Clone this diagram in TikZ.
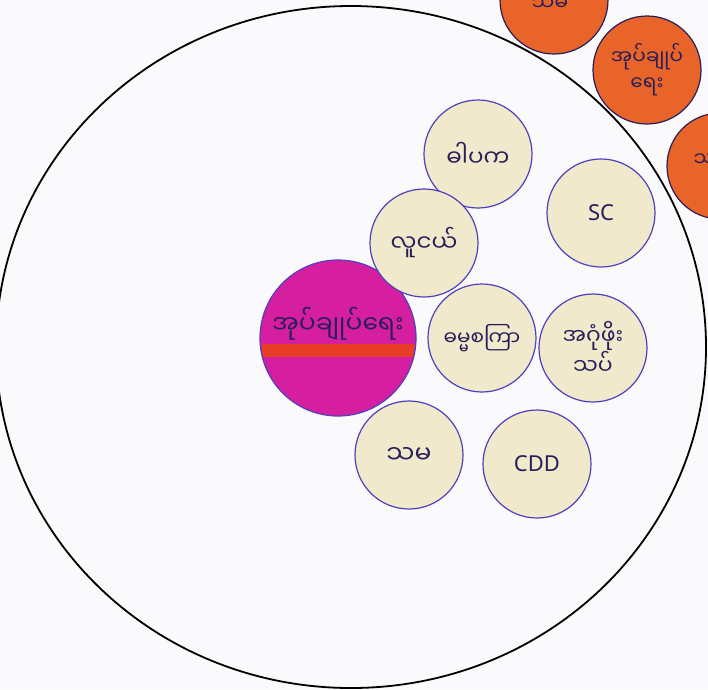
\documentclass[tikz,border=0pt]{standalone}
\usepackage{fontspec}
\setmainfont{Noto Sans}
\newfontfamily\myan[Script=Myanmar]{Noto Sans Myanmar UI}
\newfontfamily\latinfont{Noto Sans}
\definecolor{paper}{RGB}{250,250,252}
\definecolor{beige}{RGB}{240,233,204}
\definecolor{rim}{RGB}{80,64,190}
\definecolor{ink}{RGB}{40,30,90}
\definecolor{orng}{RGB}{233,100,40}
\definecolor{mag}{RGB}{214,30,160}
\definecolor{stripe}{RGB}{232,62,40}
\tikzset{
  disc/.style={circle, draw=rim, line width=1.2pt, fill=beige, inner sep=0pt,
    minimum size=108pt, text=ink, font=\myan\fontsize{23}{28}\selectfont, align=center},
  hot/.style={circle, draw=ink, line width=1.2pt, fill=orng, inner sep=0pt,
    minimum size=108pt, text=ink, font=\myan\fontsize{20}{26}\selectfont, align=center},
  mytext/.style={text=ink, font=\myan\fontsize{20}{26}\selectfont},
  latin/.style={font=\latinfont\fontsize{22}{26}\selectfont}
}
\begin{document}
\begin{tikzpicture}[x=1pt,y=-1pt]
\useasboundingbox (0,0) rectangle (708,689);
\clip (0,0) rectangle (708,689);
\fill[paper] (0,0) rectangle (708,689);
% outer boundary
\draw[line width=1.8pt, black] (351,347) ellipse [x radius=355, y radius=341];
% orange circles outside
\node[hot] (o1) at (554,0) {};
\node[mytext] (o1t) at (550,4) {သမ};
\node[hot] (o2) at (647,70) {အုပ်ချုပ်\\ရေး};
\node[hot, minimum size=106pt] (o3) at (720,166) {};
\node[mytext, anchor=west] (o3t) at (690,160) {သမ};
% magenta circle
\node[circle, draw=rim, line width=1.2pt, fill=mag, minimum size=156pt, inner sep=0pt] (m) at (338,338) {};
\begin{scope}
\clip (338,338) circle (77);
\fill[stripe] (250,344) rectangle (430,357);
\end{scope}
\node[text=ink, font=\myan\fontsize{25}{30}\selectfont] (mt) at (338,324) {အုပ်ချုပ်ရေး};
% beige circles
\node[disc] (dpk) at (478,154) {ဓါပက};
\node[disc, latin] (sc) at (601,213) {SC};
\node[disc] (yth) at (424,243) {လူငယ်};
\node[disc, font=\myan\fontsize{20}{24}\selectfont] (dmc) at (482,338) {ဓမ္မစကြာ};
\node[disc, font=\myan\fontsize{22}{28}\selectfont] (agp) at (593,348) {အဂုံဖိုး\\သပ်};
\node[disc, font=\myan\fontsize{25}{30}\selectfont] (sm) at (409,455) {သမ};
\node[disc, latin] (cdd) at (537,464) {CDD};
\end{tikzpicture}
\end{document}
